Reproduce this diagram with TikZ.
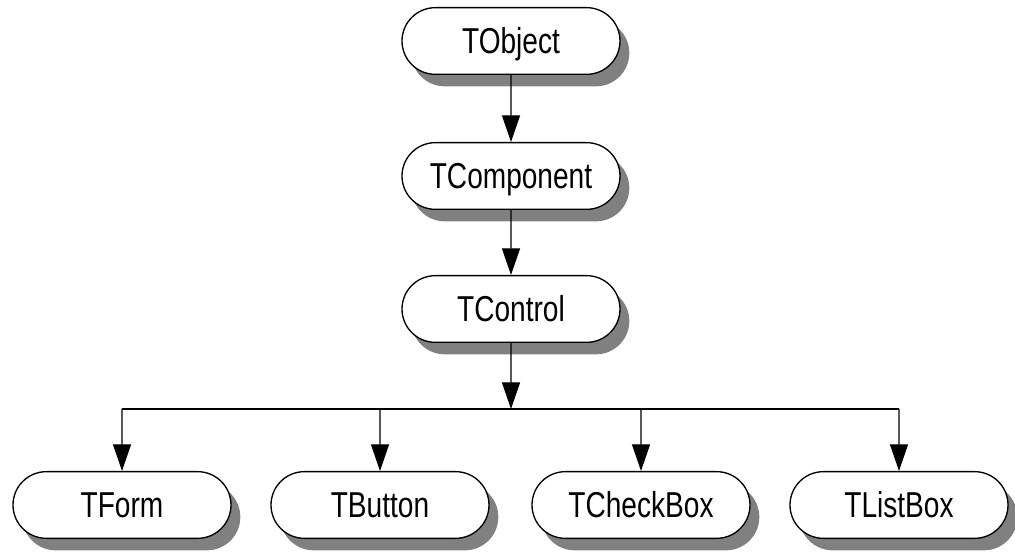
\documentclass[tikz,border=0pt]{standalone}
\usepackage{fontspec}
\setmainfont{Liberation Sans}[FakeStretch=0.78]
\usetikzlibrary{shapes.misc,shadows,arrows.meta}

\tikzset{
	classe/.style={rounded rectangle, draw, line width=1pt, fill=white,
		minimum width=163.5pt, minimum height=50pt, inner sep=0pt,
		text height=19pt, text depth=0pt,
		font=\fontsize{27}{30}\selectfont,
		drop shadow={shadow xshift=7pt, shadow yshift=-9pt, fill=black!50, opacity=1}},
	herite/.style={line width=1pt, -{Triangle[length=20pt,width=13.5pt]}},
}

\begin{document}
\begin{tikzpicture}[x=0.75pt,y=-0.75pt]
			          %coordonnees en pixels, axe y vers le bas
			          \useasboundingbox (0,0) rectangle (1015,552);
			          \node[classe] (TObject) at (511,41) {TObject};
			          \node[classe] (TComponent) at (511,176) {TComponent};
			          \node[classe] (TControl) at (511,309) {TControl};
			          \node[classe] (TForm) at (122,505) {TForm};
			          \node[classe] (TButton) at (380,505) {TButton};
			          \node[classe] (TCheckBox) at (641,505) {TCheckBox};
			          \node[classe] (TListBox) at (899,505) {TListBox};
			          \coordinate (bus) at (511,409);
			          \draw[herite] (TObject) -- (TComponent);
			          \draw[herite] (TComponent) -- (TControl);
			          \draw[herite] (TControl) -- (bus);
			          \draw[line width=1pt] (bus -| TForm) -- (bus -| TListBox);
			          \foreach \c in {TForm,TButton,TCheckBox,TListBox}
			          	\draw[herite] (bus -| \c) -- (\c);
\end{tikzpicture}
\end{document}
